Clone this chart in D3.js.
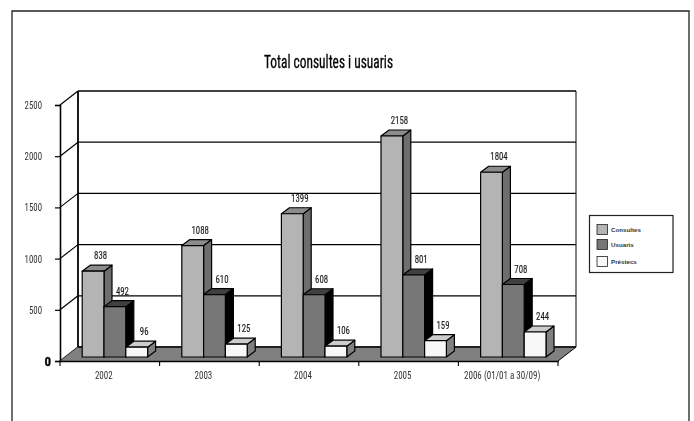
<!DOCTYPE html>
<html><head><meta charset="utf-8">
<script src="https://cdn.jsdelivr.net/npm/d3@7"></script>
<style>html,body{margin:0;padding:0;background:#fff}svg{display:block;opacity:.999}
text{font-family:"Liberation Sans Narrow","Roboto Condensed","DejaVu Sans Condensed",sans-serif}</style>
</head><body><svg id="c" width="694" height="421"></svg>
<script>
const categories=["2002","2003","2004","2005","2006 (01/01 a 30/09)"];
const seriesNames=["Consultes","Usuaris","Préstecs"];
const consultes=[838,1088,1399,2158,1804];
const usuaris=[492,610,608,801,708];
const prestecs=[96,125,106,159,244];
const yTicks=[0,500,1000,1500,2000,2500];
const seriesValues=[consultes,usuaris,prestecs];
const faces=[
 {front:"#b4b4b4",top:"#8c8c8c",side:"#6e6e6e"},
 {front:"#777777",top:"#404040",side:"#000000"},
 {front:"#f8f8f8",top:"#cccccc",side:"#808080"}];
const W=694,H=421,ink="#000",txt="#1a1a1a";
const svg=d3.select("#c");
function condense(sel,k){sel.each(function(){this.setAttribute("textLength",this.getComputedTextLength()*k);this.setAttribute("lengthAdjust","spacingAndGlyphs");});}
// frame open at the bottom
svg.append("path").attr("d",`M12 ${H}V11H689V${H}`).attr("fill","none").attr("stroke","#222").attr("stroke-width",1.3);
svg.append("text").attr("x",328.5).attr("y",67.5).attr("text-anchor","middle").attr("font-size",18).attr("fill","#000").attr("stroke","#000").attr("stroke-width",.3).text("Total consultes i usuaris").attr("textLength",129).attr("lengthAdjust","spacingAndGlyphs");

const x0=60,x1=558,yBase=361,yTop=105,depX=18,depY=-14;
const x=d3.scaleBand().domain(categories).range([x0,x1]);
const y=d3.scaleLinear().domain([0,2500]).range([yBase,yTop]);
// walls
const wall=svg.append("g").attr("fill","none").attr("stroke",ink);
yTicks.forEach(t=>{
  const yy=y(t);
  wall.append("line").attr("x1",x0).attr("y1",yy).attr("x2",x0+depX).attr("y2",yy+depY).attr("stroke-width",1.2);
  wall.append("line").attr("x1",x0+depX).attr("y1",yy+depY).attr("x2",x1+depX).attr("y2",yy+depY).attr("stroke-width",t===2500?1.6:1.2);
});
wall.append("line").attr("x1",x0+depX).attr("y1",y(0)+depY).attr("x2",x0+depX).attr("y2",y(2500)+depY).attr("stroke-width",1.8);
wall.append("line").attr("x1",x1+depX).attr("y1",y(0)+depY).attr("x2",x1+depX).attr("y2",y(2500)+depY).attr("stroke-width",1);
// floor
svg.append("path").attr("d",`M${x0} ${yBase}L${x0+depX} ${yBase+depY}H${x1+depX}L${x1} ${yBase}Z`).attr("fill","#808080").attr("stroke","none");
svg.append("line").attr("x1",x0+depX).attr("x2",x1+depX).attr("y1",yBase+depY).attr("y2",yBase+depY).attr("stroke",ink).attr("stroke-width",1.6);
svg.append("line").attr("x1",x1).attr("y1",yBase).attr("x2",x1+depX).attr("y2",yBase+depY).attr("stroke",ink).attr("stroke-width",1);
// bars
const barBase=357,pxPerUnit=(yBase-yTop)/2500,bw=21.8,dx=8,dy=-6,lead=22.2;
const inner=d3.scaleBand().domain(seriesNames).range([lead,lead+bw*3]);
const bars=svg.append("g").attr("stroke",ink).attr("stroke-width",1.2).attr("stroke-linejoin","round");
const labels=svg.append("g").attr("text-anchor","middle").attr("font-size",11).attr("fill",txt).attr("stroke",txt).attr("stroke-width",.15);
categories.forEach((c,i)=>{
  seriesNames.forEach((s,j)=>{
    const v=seriesValues[j][i],l=x(c)+inner(s),r=l+inner.bandwidth(),t=barBase-v*pxPerUnit,f=faces[j];
    bars.append("path").attr("fill",f.side).attr("d",`M${r} ${barBase}V${t}L${r+dx} ${t+dy}V${barBase+dy}Z`);
    bars.append("path").attr("fill",f.top).attr("d",`M${l} ${t}L${l+dx} ${t+dy}H${r+dx}L${r} ${t}Z`);
    bars.append("rect").attr("fill",f.front).attr("x",l).attr("y",t).attr("width",r-l).attr("height",barBase-t);
    labels.append("text").attr("x",(l+r)/2+7.5).attr("y",t-12).text(v);
  });
});
condense(labels.selectAll("text"),.8);
// axes
const ax=svg.append("g").attr("transform",`translate(${x0},0)`)
  .call(d3.axisLeft(y).tickValues(yTicks).tickSize(5).tickPadding(13).tickFormat(d3.format("d")));
ax.select(".domain").attr("stroke",ink).attr("stroke-width",1.6);
ax.selectAll(".tick line").attr("stroke",ink).attr("stroke-width",1.2);
ax.selectAll("text").attr("font-size",11).attr("fill","#333");
condense(ax.selectAll(".tick").filter(d=>d!==0).select("text"),.8);
ax.selectAll(".tick").filter(d=>d===0).select("text").attr("font-weight","bold").attr("font-size",13).attr("fill","#000").attr("stroke","#000").attr("stroke-width",.3).attr("dx",9);
const bx=svg.append("g").attr("transform",`translate(0,${yBase})`)
  .call(d3.axisBottom(x).tickSize(0).tickPadding(10));
bx.select(".domain").attr("stroke",ink).attr("stroke-width",1.4);
bx.selectAll("text").attr("font-size",11).attr("fill","#333").attr("dx",-6);
condense(bx.selectAll("text"),.82);
const edges=d3.range(categories.length+1).map(i=>x0+x.step()*i);
bx.selectAll("line.edge").data(edges).join("line").attr("class","edge").attr("x1",d=>d).attr("x2",d=>d).attr("y1",0).attr("y2",5).attr("stroke",ink).attr("stroke-width",1.1);
// legend
const lg=svg.append("g");
lg.append("rect").attr("x",589.5).attr("y",215.5).attr("width",83.5).attr("height",57).attr("fill","#fff").attr("stroke","#222").attr("stroke-width",1.2);
const ly=[229.5,244.5,261.5];
seriesNames.forEach((s,j)=>{
  lg.append("rect").attr("x",597).attr("y",ly[j]-5).attr("width",10.5).attr("height",10).attr("fill",faces[j].front).attr("stroke","#222").attr("stroke-width",.8);
  lg.append("text").attr("x",611).attr("y",ly[j]+2).attr("font-size",6.2).attr("font-weight","bold").attr("fill","#333").style("font-family",'"Liberation Sans",Arial,sans-serif').text(s);
});
</script></body></html>
